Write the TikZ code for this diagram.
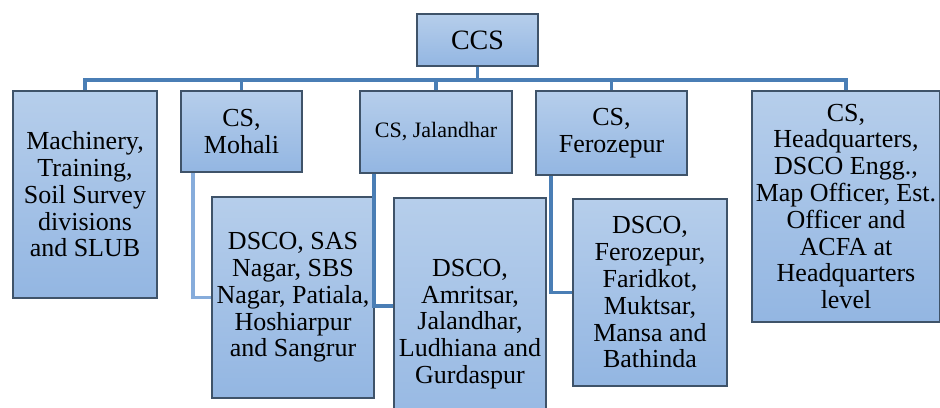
\documentclass[tikz,border=0pt]{standalone}
\usepackage{fontspec}
\setmainfont{LiberationSerif}[Extension=.ttf,UprightFont=*-Regular,BoldFont=*-Bold]
\definecolor{boxtop}{HTML}{B6CEEB}
\definecolor{boxbot}{HTML}{93B6E2}
\definecolor{boxline}{HTML}{3F5369}
\definecolor{linkblue}{HTML}{4A7EB5}
\definecolor{linklight}{HTML}{86ACDB}
\begin{document}
\begin{tikzpicture}[x=0.5pt,y=-0.5pt,
  unit/.style={draw=boxline,line width=1pt,top color=boxtop,bottom color=boxbot,
    align=center,inner sep=0pt,font=\rmfamily\fontsize{13}{13.4}\selectfont},
  link/.style={draw=linkblue,line width=1.6pt},
  sublink/.style={draw=linklight,line width=1.6pt}]
\useasboundingbox (0,0) rectangle (940,407);
\clip (0,0) rectangle (940,407);
\node[unit,minimum width=60.5pt,minimum height=26pt,font=\rmfamily\fontsize{14}{15}\selectfont] (ccs) at (477.5,40) {CCS};
\node[unit,minimum width=72pt,minimum height=103.5pt] (mach) at (85,194.5) {Machinery,\\Training,\\Soil Survey\\divisions\\and SLUB};
\node[unit,minimum width=60.5pt,minimum height=40.5pt] (moh) at (241.5,131.5) {CS,\\Mohali};
\node[unit,minimum width=76pt,minimum height=41pt,font=\rmfamily\fontsize{11}{12}\selectfont] (jal) at (436,132) {CS, Jalandhar};
\node[unit,minimum width=75.5pt,minimum height=42pt] (fer) at (611.5,133) {CS,\\Ferozepur};
\node[unit,minimum width=94pt,minimum height=115.5pt] (hq) at (846,206.5) {CS,\\Headquarters,\\DSCO Engg.,\\Map Officer, Est.\\Officer and\\ACFA at\\Headquarters\\level};
\node[unit,minimum width=81pt,minimum height=100.5pt] (dmoh) at (293,297.5) {DSCO, SAS\\Nagar, SBS\\Nagar, Patiala,\\Hoshiarpur\\and Sangrur};
\node[unit,minimum width=76pt,minimum height=126pt] (djal) at (470,324) {DSCO,\\Amritsar,\\Jalandhar,\\Ludhiana and\\Gurdaspur};
\node[unit,minimum width=77pt,minimum height=93.5pt] (dfer) at (650,292.5) {DSCO,\\Ferozepur,\\Faridkot,\\Muktsar,\\Mansa and\\Bathinda};
\draw[link] (ccs.south) -- ++(0,13) -| (mach.north);
\draw[link] (ccs.south) -- ++(0,13) -| (moh.north);
\draw[link] (ccs.south) -- ++(0,13) -| (jal.north);
\draw[link] (ccs.south) -- ++(0,13) -| (fer.north);
\draw[link] (ccs.south) -- ++(0,13) -| (hq.north);
\draw[sublink] ([xshift=6.5pt]moh.south west) |- (dmoh.west);
\draw[link] ([xshift=7.5pt]jal.south west) |- ([yshift=9pt]djal.west);
\draw[link] ([xshift=8pt]fer.south west) |- (dfer.west);
\end{tikzpicture}
\end{document}
